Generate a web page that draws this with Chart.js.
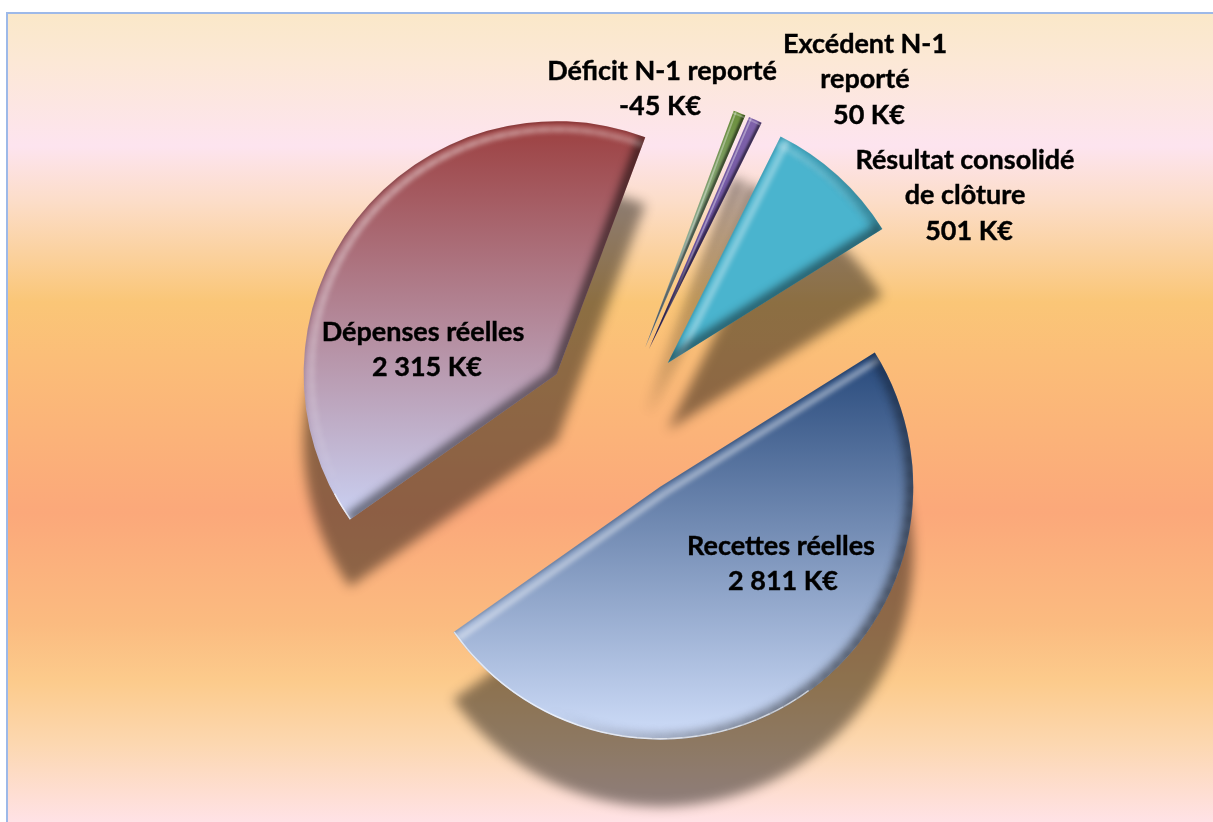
<!DOCTYPE html>
<html lang="fr">
<head>
<meta charset="utf-8">
<style>
html,body{margin:0;padding:0;background:#fff;width:1213px;height:822px;overflow:hidden}
#panel{position:absolute;left:6px;top:12px;right:0;bottom:0;border-left:2px solid #9DB9E8;border-top:2px solid #9DB9E8;
background:linear-gradient(to bottom,#FAE8C9 0,#FCE8D6 48px,#FDE4EF 132px,#FCDDC8 188px,#FAC677 288px,#FBBE78 340px,#FBA87A 498px,#FBBB80 610px,#FCCB8C 668px,#FCD7AF 728px,#FFE2E6 808px)}
#wrap{position:absolute;left:0;top:0;width:1213px;height:822px}
</style>
</head>
<body>
<div id="panel"></div>
<div id="wrap"><canvas id="c" width="1213" height="822"></canvas></div>
<script src="https://cdn.jsdelivr.net/npm/chart.js@4"></script>
<script>
const categories = ["Recettes réelles", "Dépenses réelles", "Déficit N-1 reporté", "Excédent N-1 reporté", "Résultat consolidé de clôture"];
const values = [2811, 2315, -45, 50, 501];
const categoryLines = [["Recettes réelles"], ["Dépenses réelles"], ["Déficit N-1 reporté"], ["Excédent N-1", "reporté"], ["Résultat consolidé", "de clôture"]];
const gradientStops = [["#26487A", "#CFDDF9"], ["#9C3F3F", "#CAD1F3"], ["#6B8F3A", "#BBD2F0"], ["#7F62AA", "#5C489A"], ["#4AB4CE", "#4AB4CE"]];
const explosion = [80, 75, 78, 78, 77];
const labelAnchors = [[781, 546], [423, 332], [662, 71], [865, 44], [965, 160]];
const valueAnchorX = [783, 427, 660, 869, 969];
const LINE_HEIGHT = 35.5;
const RADIUS = 253;

function formatValue(v) {
  return String(v).replace(/\B(?=(\d{3})+$)/g, " ") + " K€";
}
function geometry(arc) {
  const p = arc.getProps(["x", "y", "startAngle", "endAngle"], true);
  return { x: p.x, y: p.y, s: p.startAngle, e: p.endAngle, R: RADIUS };
}
function wedgePath(ctx, g) {
  ctx.beginPath();
  ctx.moveTo(g.x, g.y);
  ctx.arc(g.x, g.y, g.R, g.s, g.e);
  ctx.closePath();
}
const sliceStyle = {
  id: "sliceStyle",
  afterDatasetsUpdate(chart) {
    const ctx = chart.ctx;
    const cx = (chart.chartArea.left + chart.chartArea.right) / 2;
    const cy = (chart.chartArea.top + chart.chartArea.bottom) / 2;
    chart.getDatasetMeta(0).data.forEach((arc, i) => {
      const mid = (arc.startAngle + arc.endAngle) / 2;
      arc.x = cx + Math.cos(mid) * explosion[i];
      arc.y = cy + Math.sin(mid) * explosion[i];
      const g = geometry(arc);
      let top = g.y, bottom = g.y;
      for (let k = 0; k <= 60; k++) {
        const a = g.s + (g.e - g.s) * k / 60, y = g.y + Math.sin(a) * g.R;
        top = Math.min(top, y); bottom = Math.max(bottom, y);
      }
      const grad = ctx.createLinearGradient(0, top, 0, bottom);
      grad.addColorStop(0, gradientStops[i][0]);
      grad.addColorStop(1, gradientStops[i][1]);
      arc.options = Object.assign({}, arc.options, { backgroundColor: grad });
    });
  },
  beforeDatasetsDraw(chart) {
    const ctx = chart.ctx;
    ctx.save();
    ctx.shadowColor = "rgba(0,0,0,0.44)";
    ctx.shadowOffsetX = 0;
    ctx.shadowOffsetY = 67;
    ctx.shadowBlur = 12;
  },
  afterDatasetsDraw(chart) {
    const ctx = chart.ctx;
    ctx.restore();
    chart.getDatasetMeta(0).data.forEach((arc) => bevel(ctx, geometry(arc)));
    ctx.fillStyle = "#000";
    ctx.strokeStyle = "#000";
    ctx.lineWidth = 0.4;
    ctx.textAlign = "center";
    ctx.textBaseline = "middle";
    ctx.font = "bold 27px Lato, sans-serif";
    categories.forEach((c, i) => {
      const names = categoryLines[i];
      const put = (t, x, y) => { ctx.fillText(t, x, y); ctx.strokeText(t, x, y); };
      names.forEach((t, k) => put(t, labelAnchors[i][0], labelAnchors[i][1] + k * LINE_HEIGHT));
      put(formatValue(values[i]), valueAnchorX[i], labelAnchors[i][1] + names.length * LINE_HEIGHT);
    });
  }
};
function bevel(ctx, g) {
  const L = [-0.5, -0.85], D = [0.85, 0.4];
  const dot = (n, v) => n[0] * v[0] + n[1] * v[1];
  const narrow = (g.e - g.s) < 0.2;
  const s = narrow ? 0.3 : 1;
  function band(drawPath, n) {
    const b = Math.max(0, dot(n, L)), d = Math.max(0, dot(n, D));
    if (b > 0) {
      ctx.filter = "blur(" + 2.5 * s + "px)";
      ctx.lineWidth = 6 * s; ctx.strokeStyle = "rgba(255,255,255," + 0.45 * b + ")";
      drawPath(8 * s); ctx.stroke();
      ctx.filter = "blur(1.2px)";
      ctx.lineWidth = 3 * s; ctx.strokeStyle = "rgba(0,0,0," + 0.16 * b + ")";
      drawPath(0); ctx.stroke();
    }
    if (d > 0) {
      ctx.filter = "blur(" + 4 * s + "px)";
      ctx.lineWidth = 12 * s; ctx.strokeStyle = "rgba(0,0,0," + 0.6 * d + ")";
      drawPath(1); ctx.stroke();
    }
  }
  ctx.save();
  wedgePath(ctx, g);
  ctx.clip();
  ctx.lineCap = "butt";
  const edge = (angle, nAngle) => {
    const n = [Math.cos(nAngle), Math.sin(nAngle)];
    band(ins => {
      ctx.beginPath();
      ctx.moveTo(g.x - n[0] * ins, g.y - n[1] * ins);
      ctx.lineTo(g.x + Math.cos(angle) * g.R - n[0] * ins, g.y + Math.sin(angle) * g.R - n[1] * ins);
    }, n);
  };
  edge(g.s, g.s - Math.PI / 2);
  edge(g.e, g.e + Math.PI / 2);
  const step = 0.06;
  for (let a = g.s; a < g.e; a += step) {
    const b = Math.min(a + step, g.e), m = (a + b) / 2, n = [Math.cos(m), Math.sin(m)];
    band(ins => { ctx.beginPath(); ctx.arc(g.x, g.y, g.R - ins, a, b); }, n);
    if (n[1] > 0.45 && n[0] < 0.6) {
      ctx.filter = "none";
      ctx.lineWidth = 1.6; ctx.strokeStyle = "rgba(255,255,255,0.65)";
      ctx.beginPath(); ctx.arc(g.x, g.y, g.R - 0.8, a, b); ctx.stroke();
    }
  }
  ctx.restore();
}
new Chart(document.getElementById("c"), {
  type: "pie",
  data: {
    labels: categories,
    datasets: [{
      data: values,
      clip: false,
      radius: RADIUS,
      borderWidth: 0,
      backgroundColor: "#999"
    }]
  },
  options: {
    responsive: false,
    animation: false,
    events: [],
    rotation: 58,
    layout: { padding: { left: 19, top: 18 } },
    plugins: { legend: { display: false }, tooltip: { enabled: false } }
  },
  plugins: [sliceStyle]
});
</script>
</body>
</html>
